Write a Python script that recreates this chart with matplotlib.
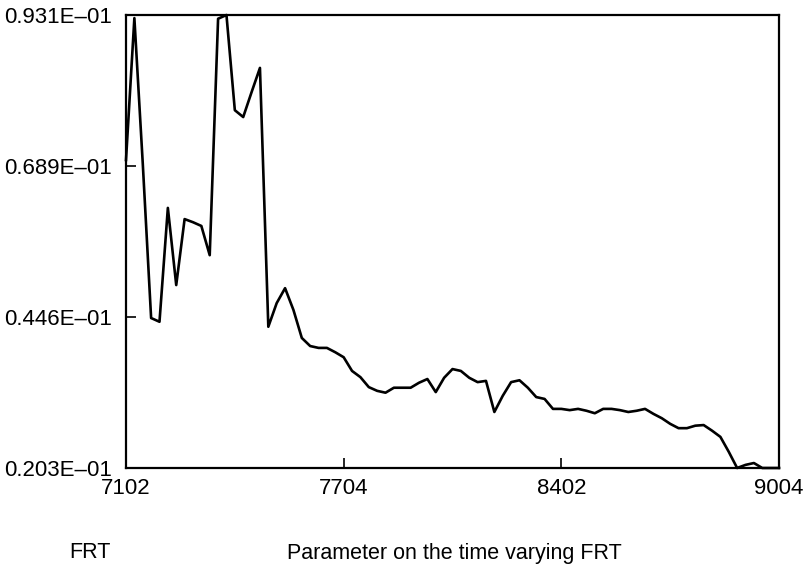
import matplotlib
matplotlib.use("Agg")
import matplotlib.pyplot as plt

plt.rcParams['font.family'] = ['Liberation Sans', 'DejaVu Sans']

# quarterly periods 71Q2 .. 90Q4 (79 points)
frt_values = [
    0.0698, 0.0926, 0.0693, 0.0444, 0.0438, 0.0621, 0.0497, 0.0603, 0.0598, 0.0592,
    0.0545, 0.0925, 0.0931, 0.0778, 0.0767, 0.0807, 0.0846, 0.0430, 0.0468, 0.0492,
    0.0457, 0.0412, 0.0399, 0.0396, 0.0396, 0.0389, 0.0381, 0.0359, 0.0349, 0.0333,
    0.0327, 0.0324, 0.0332, 0.0332, 0.0332, 0.0340, 0.0346, 0.0325, 0.0348, 0.0362,
    0.0359, 0.0348, 0.0341, 0.0343, 0.0293, 0.0319, 0.0341, 0.0344, 0.0332, 0.0317,
    0.0314, 0.0298, 0.0298, 0.0296, 0.0298, 0.0295, 0.0291, 0.0298, 0.0298, 0.0296,
    0.0293, 0.0295, 0.0298, 0.0290, 0.0283, 0.0274, 0.0267, 0.0267, 0.0271, 0.0272,
    0.0263, 0.0253, 0.0229, 0.0203, 0.0208, 0.0211, 0.0203, 0.0203, 0.0203,
]
tick_idx = [0, 26, 52, 78]
tick_labels = ["7102", "7704", "8402", "9004"]
ytick_vals = [0.0203, 0.0446, 0.0689, 0.0931]
ytick_labels = ["0.203E\u201301", "0.446E\u201301", "0.689E\u201301", "0.931E\u201301"]

fig = plt.figure(figsize=(8.06, 5.73), dpi=100)
ax = fig.add_axes([126 / 806, 1 - 468 / 573, 653 / 806, 453 / 573])

ax.plot(range(len(frt_values)), frt_values, color="black", linewidth=1.9,
        clip_on=False)

ax.set_xlim(0, len(frt_values) - 1)
ax.set_ylim(ytick_vals[0], ytick_vals[-1])
ax.set_xticks(tick_idx)
ax.set_xticklabels(tick_labels, fontsize=16)
ax.set_yticks(ytick_vals)
ax.set_yticklabels(ytick_labels, fontsize=16)
ax.tick_params(direction="in", length=7, width=1.2)
ax.tick_params(axis="x", pad=7)
ax.tick_params(axis="y", pad=10)

for s in ax.spines.values():
    s.set_linewidth(1.6)
    s.set_color("black")

fig.text(90 / 806, 1 - 553 / 573, "FRT", fontsize=15.5, ha="center", va="center")
fig.text(454 / 806, 1 - 553 / 573, "Parameter on the time varying FRT",
         fontsize=15.5, ha="center", va="center")

fig.savefig("out.png", dpi=100, facecolor="white")
